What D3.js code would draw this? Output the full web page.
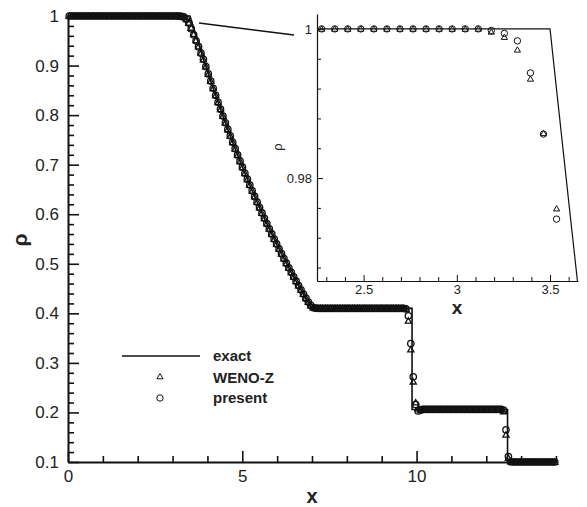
<!DOCTYPE html>
<html>
<head>
<meta charset="utf-8">
<script src="https://cdn.jsdelivr.net/npm/d3@7"></script>
<style>
  body { margin: 0; background: #fff; }
  svg { display: block; }
  text { font-family: "Liberation Sans", Arial, sans-serif; fill: #222; }
</style>
</head>
<body>
<svg id="chart" width="587" height="507"></svg>
<script>
// Uniform mesh of 200 cells on [0, 14]
const cellWidth = 0.07;
const cellCount = 200;
const xCell = d3.range(cellCount).map(i => (i + 0.5) * cellWidth);

// Density, WENO-Z scheme (triangles)
const rhoWenoZ = [
  1,1,1,1,1,1,1,1,1,1, 1,1,1,1,1,1,1,1,1,1, 1,1,1,1,1,1,1,1,1,1,
  1,1,1,1,1,1,1,1,1,1, 1,1,1,1,1,
  0.9996,0.9989,0.9972,0.9933,0.9860,0.9759,0.9635,0.9510,0.9385,0.9255,
  0.9122,0.8978,0.8831,0.8686,0.8541,0.8398,0.8257,0.8118,0.7980,0.7845,
  0.7711,0.7580,0.7450,0.7321,0.7195,0.7070,0.6948,0.6826,0.6707,0.6589,
  0.6473,0.6358,0.6246,0.6134,0.6025,0.5917,0.5810,0.5705,0.5601,0.5499,
  0.5399,0.5300,0.5202,0.5106,0.5011,0.4918,0.4826,0.4736,0.4647,0.4559,
  0.4473,0.4388,0.4305,0.4226,0.4158,0.4116,0.4103,
  0.41,0.41,0.41,0.41,0.41,0.41,0.41,0.41,0.41,0.41,
  0.41,0.41,0.41,0.41,0.41,0.41,0.41,0.41,0.41,0.41,
  0.41,0.41,0.41,0.41,0.41,0.41,0.41,0.41,0.41,0.41,
  0.41,0.41,0.41,0.41,0.41,0.41,
  0.4085,0.385,0.327,0.262,0.220,0.208,0.2055,
  0.206,0.206,0.206,0.206,0.206,0.206,0.206,0.206,0.206,0.206,
  0.206,0.206,0.206,0.206,0.206,0.206,0.206,0.206,0.206,0.206,
  0.206,0.206,0.206,0.206,0.206,0.206,0.206,0.206,0.206,0.206,
  0.206,0.206,0.206,
  0.202,0.155,0.108,0.1008,
  0.1,0.1,0.1,0.1,0.1,0.1,0.1,0.1,0.1,0.1, 0.1,0.1,0.1,0.1,0.1,0.1,0.1,0.1
];

// Density, present scheme (circles)
const rhoPresent = [
  1,1,1,1,1,1,1,1,1,1, 1,1,1,1,1,1,1,1,1,1, 1,1,1,1,1,1,1,1,1,1,
  1,1,1,1,1,1,1,1,1,1, 1,1,1,1,1,
  0.9998,0.9994,0.9984,0.9941,0.9859,0.9745,0.962,0.950,0.938,0.925,
  0.9125,0.8980,0.8832,0.8687,0.8542,0.8399,0.8258,0.8119,0.7981,0.7846,
  0.7712,0.7581,0.7451,0.7322,0.7196,0.7071,0.6949,0.6827,0.6708,0.6590,
  0.6474,0.6359,0.6247,0.6135,0.6026,0.5918,0.5811,0.5706,0.5602,0.5500,
  0.5400,0.5301,0.5203,0.5107,0.5012,0.4919,0.4827,0.4737,0.4648,0.4560,
  0.4474,0.4389,0.4306,0.4228,0.4160,0.4118,0.4104,
  0.41,0.41,0.41,0.41,0.41,0.41,0.41,0.41,0.41,0.41,
  0.41,0.41,0.41,0.41,0.41,0.41,0.41,0.41,0.41,0.41,
  0.41,0.41,0.41,0.41,0.41,0.41,0.41,0.41,0.41,0.41,
  0.41,0.41,0.41,0.41,0.41,0.41,
  0.4088,0.395,0.339,0.272,0.216,0.203,0.2045,
  0.206,0.206,0.206,0.206,0.206,0.206,0.206,0.206,0.206,0.206,
  0.206,0.206,0.206,0.206,0.206,0.206,0.206,0.206,0.206,0.206,
  0.206,0.206,0.206,0.206,0.206,0.206,0.206,0.206,0.206,0.206,
  0.206,0.206,0.206,
  0.2045,0.165,0.111,0.1005,
  0.1,0.1,0.1,0.1,0.1,0.1,0.1,0.1,0.1,0.1, 0.1,0.1,0.1,0.1,0.1,0.1,0.1,0.1
];

// Exact solution: rarefaction, contact discontinuity, shock
const exactX = [
  0, 3.5,
  3.535,3.605,3.675,3.745,3.815,3.885,3.955,4.025,4.095,4.165,
  4.235,4.305,4.375,4.445,4.515,4.585,4.655,4.725,4.795,4.865,
  4.935,5.005,5.075,5.145,5.215,5.285,5.355,5.425,5.495,5.565,
  5.635,5.705,5.775,5.845,5.915,5.985,6.055,6.125,6.195,6.265,
  6.335,6.405,6.475,6.545,6.615,6.685,6.755,6.825,6.895,6.965,
  7, 9.87, 9.87, 12.61, 12.61, 14
];
const exactRho = [
  1, 1,
  0.99186,0.97574,0.95983,0.94413,0.92864,0.91335,0.89826,0.88338,0.86869,0.85419,
  0.83989,0.82578,0.81186,0.79813,0.78459,0.77124,0.75806,0.74506,0.73225,0.71961,
  0.70714,0.69486,0.68274,0.67079,0.65901,0.6474,0.63594,0.62466,0.61353,0.60256,
  0.59176,0.5811,0.57059,0.56024,0.55004,0.53999,0.5301,0.52034,0.51073,0.50125,
  0.49192,0.48273,0.47368,0.46477,0.45599,0.44734,0.43883,0.43044,0.42218,0.41405,
  0.41, 0.41, 0.206, 0.206, 0.1, 0.1
];

// Tick values and labels
const xTicksMain = [0, 5, 10];
const xTickLabelsMain = ["0", "5", "10"];
const yTicksMain = [0.1, 0.2, 0.3, 0.4, 0.5, 0.6, 0.7, 0.8, 0.9, 1];
const yTickLabelsMain = ["0.1", "0.2", "0.3", "0.4", "0.5", "0.6", "0.7", "0.8", "0.9", "1"];
const xTicksInset = [2.5, 3, 3.5];
const xTickLabelsInset = ["2.5", "3", "3.5"];
const yTicksInset = [0.98, 1];
const yTickLabelsInset = ["0.98", "1"];

const legendLabels = ["exact", "WENO-Z", "present"];

const ink = "#111";
const svg = d3.select("#chart");

const triPath = (cx, cy) => `M${cx},${cy - 3}L${cx + 3.1},${cy + 2.3}L${cx - 3.1},${cy + 2.3}Z`;

function drawAxes(g, xs, ys, o) {
  const [x0, x1] = xs.range();
  const [y0, y1] = ys.range();
  // minor ticks
  g.append("g").attr("transform", `translate(0,${y0})`)
    .call(d3.axisBottom(xs).tickValues(o.xMinor).tickSize(-o.minor).tickSizeOuter(0).tickFormat(""))
    .call(s => s.select(".domain").remove())
    .call(s => s.selectAll("line").attr("stroke", ink).attr("stroke-width", o.tw));
  g.append("g").attr("transform", `translate(${x0},0)`)
    .call(d3.axisLeft(ys).tickValues(o.yMinor).tickSize(-o.minor).tickSizeOuter(0).tickFormat(""))
    .call(s => s.select(".domain").remove())
    .call(s => s.selectAll("line").attr("stroke", ink).attr("stroke-width", o.tw));
  // major ticks with labels
  const gx = g.append("g").attr("transform", `translate(0,${y0})`)
    .call(d3.axisBottom(xs).tickValues(o.xMajor).tickSize(-o.major).tickSizeOuter(0)
      .tickPadding(o.xPad).tickFormat((d, i) => o.xLabels[i]));
  const gy = g.append("g").attr("transform", `translate(${x0},0)`)
    .call(d3.axisLeft(ys).tickValues(o.yMajor).tickSize(-o.major).tickSizeOuter(0)
      .tickPadding(o.yPad).tickFormat((d, i) => o.yLabels[i]));
  [gx, gy].forEach(s => {
    s.select(".domain").attr("stroke", ink).attr("stroke-width", o.dw);
    s.selectAll("line").attr("stroke", ink).attr("stroke-width", o.tw);
    s.selectAll("text").attr("font-size", o.fs).attr("fill", "#222")
      .attr("font-family", "'Liberation Sans', Arial, sans-serif");
  });
}

// ---------- main plot ----------
const x = d3.scaleLinear().domain([0, 14]).range([68, 556]);
const y = d3.scaleLinear().domain([0.1, 1]).range([462, 16]);

const main = svg.append("g");
drawAxes(main, x, y, {
  xMinor: d3.range(1, 15).filter(v => v % 5 !== 0),
  yMinor: d3.range(0.12, 1.0, 0.02).filter(v => Math.abs(v * 10 - Math.round(v * 10)) > 1e-6),
  xMajor: xTicksMain, xLabels: xTickLabelsMain,
  yMajor: yTicksMain, yLabels: yTickLabelsMain,
  major: 11, minor: 6, tw: 1.6, dw: 2, fs: 17, xPad: 8, yPad: 9
});

const exactLine = d3.line().x((d, i) => x(exactX[i])).y((d, i) => y(exactRho[i]));
main.append("path").datum(exactX).attr("d", exactLine)
  .attr("fill", "none").attr("stroke", ink).attr("stroke-width", 1.6);

main.append("g").selectAll("path").data(rhoWenoZ).join("path")
  .attr("d", (d, i) => triPath(x(xCell[i]), y(d)))
  .attr("fill", "none").attr("stroke", ink).attr("stroke-width", 1.3);
main.append("g").selectAll("circle").data(rhoPresent).join("circle")
  .attr("cx", (d, i) => x(xCell[i])).attr("cy", d => y(d)).attr("r", 3.2)
  .attr("fill", "none").attr("stroke", ink).attr("stroke-width", 1.3);

main.append("text").attr("x", 312).attr("y", 503).attr("text-anchor", "middle")
  .attr("font-size", 20).attr("font-weight", "bold").text("x");
main.append("text").attr("transform", "translate(27,240) rotate(-90)").attr("text-anchor", "middle")
  .attr("font-size", 21).attr("font-weight", "bold").text("ρ");

// legend
const lg = main.append("g");
lg.append("line").attr("x1", 122).attr("x2", 200).attr("y1", 356).attr("y2", 356)
  .attr("stroke", ink).attr("stroke-width", 1.6);
lg.append("path").attr("d", triPath(160, 376.5)).attr("fill", "none").attr("stroke", ink).attr("stroke-width", 1);
lg.append("circle").attr("cx", 160).attr("cy", 398).attr("r", 3.2).attr("fill", "none").attr("stroke", ink).attr("stroke-width", 1);
[361, 382.5, 403].forEach((yy, i) => {
  lg.append("text").attr("x", 213).attr("y", yy).attr("font-size", 15).attr("font-weight", "bold").text(legendLabels[i]);
});

// pointer to the zoomed region
main.append("line").attr("x1", 199).attr("y1", 23).attr("x2", 294).attr("y2", 35)
  .attr("stroke", ink).attr("stroke-width", 1.6);

// ---------- inset: head of the rarefaction ----------
const xi = d3.scaleLinear().domain([2.25, 3.65]).range([317, 578]);
const yi = d3.scaleLinear().domain([0.9662, 1.002]).range([281, 14]);

const inset = svg.append("g");
svg.append("defs").append("clipPath").attr("id", "insetClip")
  .append("rect").attr("x", 317).attr("y", 14).attr("width", 261).attr("height", 267);

drawAxes(inset, xi, yi, {
  xMinor: d3.range(2.3, 3.65, 0.1).filter(v => Math.abs(v * 2 - Math.round(v * 2)) > 1e-6),
  yMinor: [0.968, 0.972, 0.976, 0.984, 0.988, 0.992, 0.996],
  xMajor: xTicksInset, xLabels: xTickLabelsInset,
  yMajor: yTicksInset, yLabels: yTickLabelsInset,
  major: 6, minor: 4, tw: 1, dw: 1.2, fs: 13, xPad: 4, yPad: 5
});

const inClip = inset.append("g").attr("clip-path", "url(#insetClip)");
const exactLineInset = d3.line().x((d, i) => xi(exactX[i])).y((d, i) => yi(exactRho[i]));
inClip.append("path").datum(exactX).attr("d", exactLineInset)
  .attr("fill", "none").attr("stroke", ink).attr("stroke-width", 1.2);

const inRange = i => xCell[i] >= 2.25 && xCell[i] <= 3.65;
inClip.append("g").selectAll("path").data(rhoWenoZ.map((d, i) => [i, d]).filter(p => inRange(p[0]) && p[1] >= 0.9662))
  .join("path").attr("d", p => triPath(xi(xCell[p[0]]), yi(p[1])))
  .attr("fill", "none").attr("stroke", ink).attr("stroke-width", 1);
inClip.append("g").selectAll("circle").data(rhoPresent.map((d, i) => [i, d]).filter(p => inRange(p[0]) && p[1] >= 0.9662))
  .join("circle").attr("cx", p => xi(xCell[p[0]])).attr("cy", p => yi(p[1])).attr("r", 3.2)
  .attr("fill", "none").attr("stroke", ink).attr("stroke-width", 1);

inset.append("text").attr("x", 457).attr("y", 314).attr("text-anchor", "middle")
  .attr("font-size", 19).attr("font-weight", "bold").text("x");
inset.append("text").attr("transform", "translate(282,147) rotate(-90)").attr("text-anchor", "middle")
  .attr("font-size", 13).text("ρ");
</script>
</body>
</html>
